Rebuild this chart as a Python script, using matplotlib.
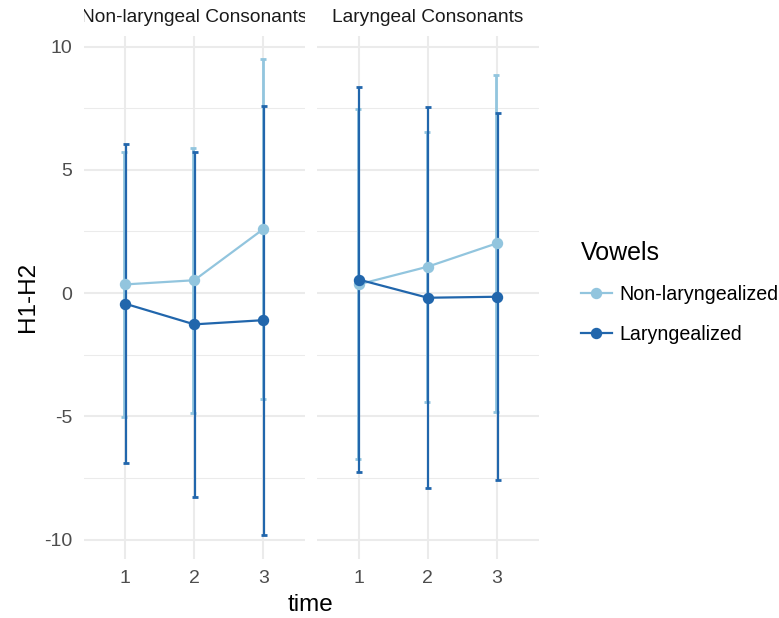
import matplotlib.pyplot as plt
import numpy as np
from matplotlib.lines import Line2D
from matplotlib.transforms import Bbox, TransformedBbox

plt.rcParams['font.family'] = ['Liberation Sans', 'DejaVu Sans']
plt.rcParams['axes.unicode_minus'] = False

time = [1, 2, 3]
panels = ['Non-laryngeal Consonants', 'Laryngeal Consonants']
vowels = ['Non-laryngealized', 'Laryngealized']

# mean H1-H2 per panel, per vowel type
nonlar_cons_nonlar_mean = [0.35, 0.52, 2.60]
nonlar_cons_nonlar_sd = [5.38, 5.38, 6.88]
nonlar_cons_lar_mean = [-0.43, -1.27, -1.10]
nonlar_cons_lar_sd = [6.47, 7.00, 8.70]
lar_cons_nonlar_mean = [0.35, 1.07, 2.02]
lar_cons_nonlar_sd = [7.10, 5.47, 6.84]
lar_cons_lar_mean = [0.55, -0.19, -0.15]
lar_cons_lar_sd = [7.80, 7.72, 7.45]

data = [
    [(nonlar_cons_nonlar_mean, nonlar_cons_nonlar_sd), (nonlar_cons_lar_mean, nonlar_cons_lar_sd)],
    [(lar_cons_nonlar_mean, lar_cons_nonlar_sd), (lar_cons_lar_mean, lar_cons_lar_sd)],
]

colors = ['#92C5DE', '#2166AC']
dodge = [-0.012, 0.010]
grid_col = '#EBEBEB'
W, H = 779, 618

fig = plt.figure(figsize=(W / 100, H / 100), dpi=100)
ax_boxes = [(83.5, 305.0), (317.0, 538.5)]
top_px, bot_px = 35.5, 558.5

axes = []
for i, (x0, x1) in enumerate(ax_boxes):
    ax = fig.add_axes([x0 / W, 1 - bot_px / H, (x1 - x0) / W, (bot_px - top_px) / H])
    axes.append(ax)
    ax.set_xlim(0.4, 3.6)
    ax.set_ylim(-10.77, 10.45)
    ax.set_xticks(time)
    ax.set_xticklabels([str(t) for t in time])
    ax.set_yticks([-10, -5, 0, 5, 10])
    ax.set_yticks([-7.5, -2.5, 2.5, 7.5], minor=True)
    ax.grid(True, which='major', color=grid_col, lw=1.45)
    ax.grid(True, which='minor', axis='y', color=grid_col, lw=0.75)
    ax.set_axisbelow(True)
    for s in ax.spines.values():
        s.set_visible(False)
    ax.tick_params(which='both', length=0, labelsize=14, labelcolor='#4D4D4D', pad=8)
    if i > 0:
        ax.tick_params(labelleft=False)

    for j, (mean, sd) in enumerate(data[i]):
        m = np.array(mean)
        s = np.array(sd)
        xs = np.array(time) + dodge[j]
        ax.errorbar(xs, m, yerr=s, fmt='none', ecolor=colors[j],
                    elinewidth=2.0 if j == 0 else 1.6, capsize=2.5, capthick=2, zorder=2 + j)
    for j, (mean, sd) in enumerate(data[i]):
        ax.plot(time, mean, color=colors[j], lw=1.6, marker='o', ms=7.2, zorder=5 + j)

    t = ax.text(0.5, 1 + 17.5 / (bot_px - top_px), panels[i], transform=ax.transAxes,
                ha='center', va='center', fontsize=13.8, color='#1A1A1A')
    t.set_clip_box(TransformedBbox(Bbox([[0, 1], [1, 1.2]]), ax.transAxes))
    t.set_clip_on(True)

axes[0].set_ylabel('H1-H2', fontsize=17.5, labelpad=4)
fig.text(310 / W, 1 - 605 / H, 'time', ha='center', va='center', fontsize=17.5)

handles = [Line2D([0], [0], color=c, lw=1.6, marker='o', ms=7.2) for c in colors]
leg = fig.legend(handles, vowels, loc='upper left', bbox_to_anchor=(563 / W, 1 - 223 / H),
                 frameon=False, fontsize=14.1, title='Vowels', title_fontsize=18,
                 handlelength=1.6, handletextpad=0.4, labelspacing=1.05, alignment='left')

fig.savefig('out.png', dpi=100)
